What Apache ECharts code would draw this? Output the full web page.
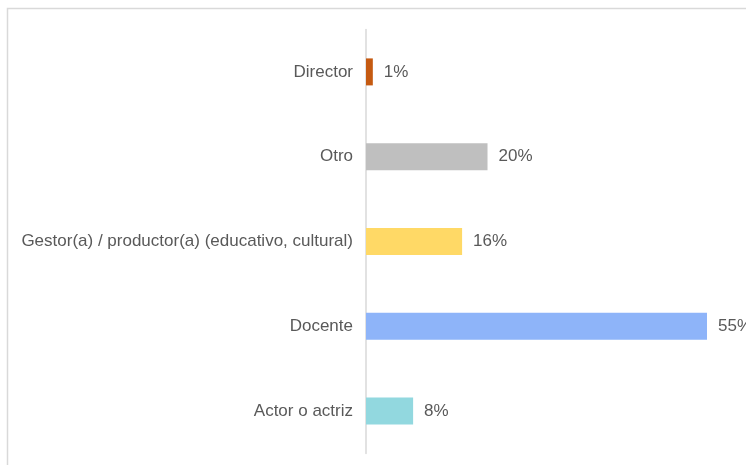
<!DOCTYPE html>
<html>
<head>
<meta charset="utf-8">
<script src="https://cdn.jsdelivr.net/npm/echarts@6/dist/echarts.min.js"></script>
<style>
html,body{margin:0;padding:0;background:#fff;}
#chart{width:746px;height:465px;}
</style>
</head>
<body>
<div id="chart"></div>
<script>
var categories = ['Actor o actriz', 'Docente', 'Gestor(a) / productor(a) (educativo, cultural)', 'Otro', 'Director'];
var values = [7.6, 55, 15.5, 19.6, 1.1];
var barColors = ['#92D8DF', '#8EB4F9', '#FFD966', '#BFBFBF', '#C55A11'];

var chart = echarts.init(document.getElementById('chart'), null, {renderer: 'canvas'});
var font = '"Liberation Sans", Arial, sans-serif';
chart.setOption({
  animation: false,
  graphic: [{
    type: 'rect',
    shape: {x: 7.5, y: 8.5, width: 800, height: 500},
    style: {fill: 'none', stroke: '#D9D9D9', lineWidth: 1.5},
    silent: true
  }],
  grid: {left: 366, top: 29.5, height: 424, right: 8},
  xAxis: {
    type: 'value', min: 0, max: 60,
    show: false
  },
  yAxis: {
    type: 'category',
    data: categories,
    axisLine: {show: true, lineStyle: {color: '#D9D9D9', width: 1.5}},
    axisTick: {show: false},
    axisLabel: {color: '#595959', fontSize: 17, fontFamily: font, margin: 13}
  },
  series: [{
    type: 'bar',
    data: values,
    barWidth: 27,
    itemStyle: {color: function (p) { return barColors[p.dataIndex]; }},
    label: {
      show: true, position: 'right', distance: 11,
      color: '#595959', fontSize: 17, fontFamily: font,
      formatter: function (p) { return Math.round(p.value) + '%'; }
    }
  }]
});
</script>
</body>
</html>
